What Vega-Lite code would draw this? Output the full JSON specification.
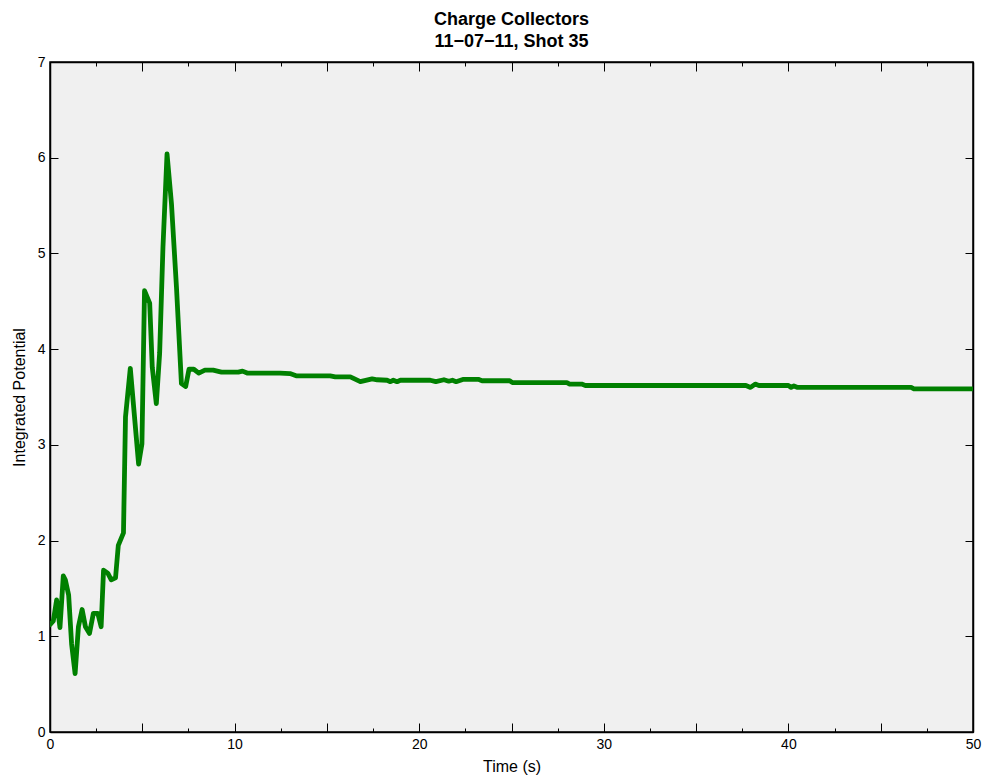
{
  "$schema": "https://vega.github.io/schema/vega-lite/v6.json",
  "width": 923,
  "height": 670,
  "autosize": {"type": "none"},
  "padding": {"left": 50, "top": 62, "right": 11, "bottom": 49},
  "background": "white",
  "title": {
    "text": ["Charge Collectors", "11−07−11, Shot 35"],
    "font": "Liberation Sans Narrow, Liberation Sans, Arial, sans-serif",
    "fontSize": 18,
    "fontWeight": "bold",
    "lineHeight": 22,
    "anchor": "middle",
    "offset": 4,
    "color": "black"
  },
  "config": {
    "view": {"fill": "#f0f0f0", "stroke": "black", "strokeWidth": 1.5},
    "axis": {
      "labelFont": "Liberation Sans Narrow, Liberation Sans, Arial, sans-serif",
      "titleFont": "Liberation Sans Narrow, Liberation Sans, Arial, sans-serif",
      "labelFontSize": 14,
      "titleFontSize": 16,
      "titleFontWeight": "normal",
      "labelColor": "black",
      "titleColor": "black",
      "tickColor": "black",
      "domainColor": "black",
      "domainWidth": 1.5,
      "grid": false
    }
  },
  "data": {
    "values": [
      {"t": 0.0, "v": 1.12}, {"t": 0.18, "v": 1.16}, {"t": 0.36, "v": 1.38}, {"t": 0.54, "v": 1.09},
      {"t": 0.72, "v": 1.63}, {"t": 0.83, "v": 1.59}, {"t": 1.01, "v": 1.43}, {"t": 1.17, "v": 0.92},
      {"t": 1.36, "v": 0.61}, {"t": 1.54, "v": 1.10}, {"t": 1.74, "v": 1.28}, {"t": 1.92, "v": 1.10},
      {"t": 2.14, "v": 1.03}, {"t": 2.35, "v": 1.24}, {"t": 2.59, "v": 1.24}, {"t": 2.77, "v": 1.10},
      {"t": 2.90, "v": 1.69}, {"t": 3.13, "v": 1.66}, {"t": 3.32, "v": 1.59}, {"t": 3.55, "v": 1.61},
      {"t": 3.70, "v": 1.95}, {"t": 3.98, "v": 2.08}, {"t": 4.09, "v": 3.29}, {"t": 4.35, "v": 3.80},
      {"t": 4.80, "v": 2.80}, {"t": 4.98, "v": 3.01}, {"t": 5.12, "v": 4.61}, {"t": 5.40, "v": 4.48},
      {"t": 5.54, "v": 3.81}, {"t": 5.76, "v": 3.43}, {"t": 5.94, "v": 3.96}, {"t": 6.12, "v": 5.07},
      {"t": 6.34, "v": 6.04}, {"t": 6.58, "v": 5.52}, {"t": 6.85, "v": 4.65}, {"t": 7.12, "v": 3.64},
      {"t": 7.35, "v": 3.61}, {"t": 7.53, "v": 3.79}, {"t": 7.79, "v": 3.79}, {"t": 8.06, "v": 3.75},
      {"t": 8.39, "v": 3.78}, {"t": 8.84, "v": 3.78}, {"t": 9.29, "v": 3.76}, {"t": 10.2, "v": 3.76},
      {"t": 10.43, "v": 3.77}, {"t": 10.68, "v": 3.75}, {"t": 12.46, "v": 3.75}, {"t": 13.0, "v": 3.745},
      {"t": 13.37, "v": 3.72}, {"t": 15.18, "v": 3.72}, {"t": 15.45, "v": 3.71}, {"t": 16.27, "v": 3.71},
      {"t": 16.81, "v": 3.66}, {"t": 17.45, "v": 3.69}, {"t": 17.72, "v": 3.68}, {"t": 18.26, "v": 3.675},
      {"t": 18.44, "v": 3.66}, {"t": 18.6, "v": 3.675}, {"t": 18.8, "v": 3.66}, {"t": 18.98, "v": 3.675},
      {"t": 20.6, "v": 3.675}, {"t": 20.9, "v": 3.66}, {"t": 21.34, "v": 3.68}, {"t": 21.6, "v": 3.665},
      {"t": 21.8, "v": 3.675}, {"t": 22.0, "v": 3.66}, {"t": 22.4, "v": 3.685}, {"t": 23.2, "v": 3.685},
      {"t": 23.4, "v": 3.67}, {"t": 24.9, "v": 3.67}, {"t": 25.05, "v": 3.65}, {"t": 28.0, "v": 3.65},
      {"t": 28.15, "v": 3.635}, {"t": 28.8, "v": 3.635}, {"t": 29.0, "v": 3.62}, {"t": 37.7, "v": 3.62},
      {"t": 37.95, "v": 3.60}, {"t": 38.2, "v": 3.635}, {"t": 38.4, "v": 3.62}, {"t": 40.0, "v": 3.62},
      {"t": 40.15, "v": 3.60}, {"t": 40.3, "v": 3.615}, {"t": 40.5, "v": 3.60}, {"t": 46.65, "v": 3.60},
      {"t": 46.8, "v": 3.585}, {"t": 50.0, "v": 3.585}
    ]
  },
  "resolve": {"axis": {"x": "independent", "y": "independent"}},
  "layer": [
    {
      "mark": {"type": "line", "color": "#008000", "strokeWidth": 4.8, "strokeJoin": "round", "strokeCap": "round", "clip": true},
      "encoding": {
        "x": {
          "field": "t", "type": "quantitative",
          "scale": {"domain": [0, 50], "nice": false, "zero": false},
          "axis": {
            "orient": "bottom",
            "title": "Time (s)",
            "values": [0, 2.5, 5, 7.5, 10, 12.5, 15, 17.5, 20, 22.5, 25, 27.5, 30, 32.5, 35, 37.5, 40, 42.5, 45, 47.5, 50],
            "labelExpr": "datum.value % 10 === 0 ? datum.label : ''",
            "tickSize": {"condition": {"test": "datum.value % 5 === 0", "value": -9}, "value": -4},
            "labelPadding": 14,
            "labelFlush": false,
            "labelOverlap": false,
            "titlePadding": 2
          }
        },
        "y": {
          "field": "v", "type": "quantitative",
          "scale": {"domain": [0, 7], "nice": false, "zero": false},
          "axis": {
            "orient": "left",
            "title": "Integrated Potential",
            "values": [0, 1, 2, 3, 4, 5, 6, 7],
            "tickSize": -8,
            "labelPadding": 13,
            "titlePadding": 10
          }
        }
      }
    },
    {
      "mark": {"type": "line", "opacity": 0},
      "encoding": {
        "x": {
          "field": "t", "type": "quantitative",
          "axis": {
            "orient": "top",
            "title": null,
            "labels": false,
            "values": [0, 2.5, 5, 7.5, 10, 12.5, 15, 17.5, 20, 22.5, 25, 27.5, 30, 32.5, 35, 37.5, 40, 42.5, 45, 47.5, 50],
            "tickSize": {"condition": {"test": "datum.value % 5 === 0", "value": -9}, "value": -4}
          }
        },
        "y": {
          "field": "v", "type": "quantitative",
          "axis": {
            "orient": "right",
            "title": null,
            "labels": false,
            "values": [0, 1, 2, 3, 4, 5, 6, 7],
            "tickSize": -8
          }
        }
      }
    }
  ]
}
